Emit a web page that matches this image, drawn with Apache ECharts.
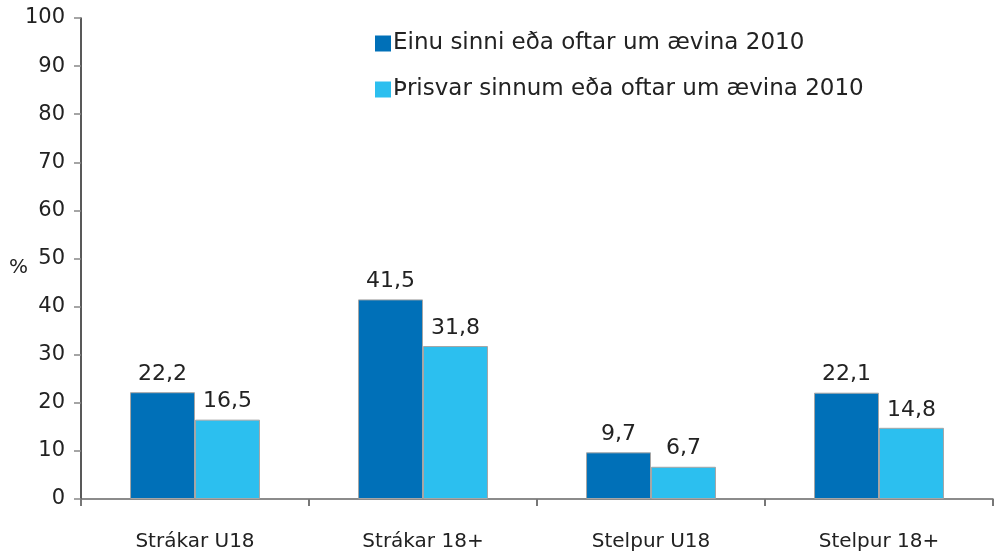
<!DOCTYPE html>
<html>
<head>
<meta charset="utf-8">
<script src="https://cdn.jsdelivr.net/npm/echarts@6/dist/echarts.min.js"></script>
<style>
  html, body { margin: 0; padding: 0; background: #fff; }
  #chart { width: 995px; height: 552px; }
</style>
</head>
<body>
<div id="chart"></div>
<script>
var categories = ["Strákar U18", "Strákar 18+", "Stelpur U18", "Stelpur 18+"];
var seriesNames = ["Einu sinni eða oftar um ævina 2010", "Þrisvar sinnum eða oftar um ævina 2010"];
var onceValues = [22.2, 41.5, 9.7, 22.1];
var thriceValues = [16.5, 31.8, 6.7, 14.8];

var font = "DejaVu Sans";

var chart = echarts.init(document.getElementById("chart"));

function barSeries(name, values, color) {
  return {
    name: name,
    type: "bar",
    data: values,
    barGap: "0%",
    barCategoryGap: "43%",
    itemStyle: {
      color: color,
      borderColor: "#a6a6a6",
      borderWidth: 1
    },
    label: {
      show: true,
      position: "top",
      distance: 7,
      fontFamily: font,
      fontSize: 22,
      color: "#222",
      formatter: function (p) {
        return String(p.value).replace(".", ",");
      }
    }
  };
}

chart.setOption({
  animation: false,
  grid: { left: 81, right: 2, top: 18, bottom: 52 },
  legend: {
    orient: "vertical",
    left: 375,
    top: 32,
    padding: 0,
    itemGap: 23,
    itemWidth: 16,
    itemHeight: 16,
    icon: "rect",
    itemStyle: { borderWidth: 0 },
    textStyle: { fontFamily: font, fontSize: 23, color: "#222", padding: [0, 0, 0, -3] },
    data: seriesNames
  },
  graphic: [{
    type: "text",
    left: 9,
    top: 258,
    style: { text: "%", fontFamily: font, fontSize: 20, fill: "#222" }
  }],
  xAxis: {
    type: "category",
    data: categories,
    axisLine: { lineStyle: { color: "#666", width: 1.5 } },
    axisTick: { show: true, length: 7, lineStyle: { color: "#777", width: 2 } },
    axisLabel: { fontFamily: font, fontSize: 20, color: "#222", margin: 33 }
  },
  yAxis: {
    type: "value",
    min: 0,
    max: 100,
    interval: 10,
    splitLine: { show: false },
    axisLine: { show: true, lineStyle: { color: "#222", width: 1.5 } },
    axisTick: { show: true, length: 7, lineStyle: { color: "#888", width: 1.5 } },
    axisLabel: { fontFamily: font, fontSize: 21, color: "#222", margin: 16 }
  },
  series: [
    barSeries(seriesNames[0], onceValues, "#0070b8"),
    barSeries(seriesNames[1], thriceValues, "#2cbfef")
  ]
});
</script>
</body>
</html>
